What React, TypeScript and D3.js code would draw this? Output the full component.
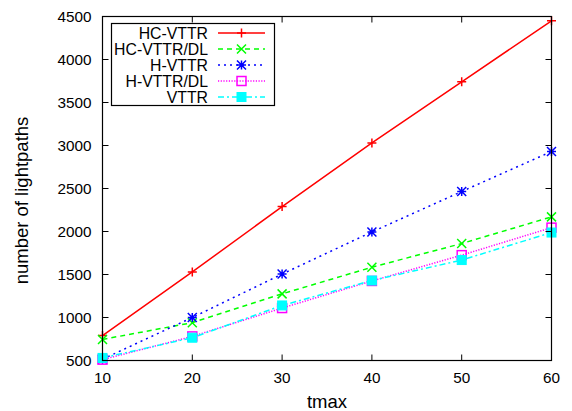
import React from "react";
import * as d3 from "d3";

const tmax = [10, 20, 30, 40, 50, 60];
const hcVttr = [790, 1530, 2290, 3030, 3740, 4450];
const hcVttrDl = [745, 940, 1275, 1585, 1860, 2170];
const hVttr = [515, 1000, 1505, 1995, 2465, 2930];
const hVttrDl = [510, 780, 1110, 1425, 1725, 2045];
const vttr = [530, 765, 1140, 1430, 1668, 1988];
const seriesNames = ["HC-VTTR", "HC-VTTR/DL", "H-VTTR", "H-VTTR/DL", "VTTR"];
const xTicks = [10, 20, 30, 40, 50, 60];
const yTicks = [500, 1000, 1500, 2000, 2500, 3000, 3500, 4000, 4500];

const W = 572, H = 411;
const L = 102.5, R = 551.5, T = 16.5, B = 360.5;
const font = "'Liberation Sans', Arial, Helvetica, sans-serif";

type S = { name: string; values: number[]; color: string; dash: string; marker: string };

const series: S[] = [
  { name: seriesNames[0], values: hcVttr, color: "#ff0000", dash: "", marker: "plus" },
  { name: seriesNames[1], values: hcVttrDl, color: "#00ff00", dash: "5,4", marker: "cross" },
  { name: seriesNames[2], values: hVttr, color: "#0000ff", dash: "2,4", marker: "star" },
  { name: seriesNames[3], values: hVttrDl, color: "#ff00ff", dash: "1.2,1.5", marker: "osq" },
  { name: seriesNames[4], values: vttr, color: "#00ffff", dash: "6,3,2,3", marker: "fsq" },
];

function Marker({ type, x, y, color }: { type: string; x: number; y: number; color: string }) {
  const r = 4.5;
  if (type === "plus")
    return <path d={`M${x - r},${y}H${x + r}M${x},${y - r}V${y + r}`} stroke={color} strokeWidth={1.5} />;
  if (type === "cross")
    return <path d={`M${x - r},${y - r}L${x + r},${y + r}M${x - r},${y + r}L${x + r},${y - r}`} stroke={color} strokeWidth={1.5} />;
  if (type === "star")
    return (
      <path
        d={`M${x - r},${y - r}L${x + r},${y + r}M${x - r},${y + r}L${x + r},${y - r}M${x - r},${y}H${x + r}M${x},${y - r}V${y + r}`}
        stroke={color}
        strokeWidth={1.5}
      />
    );
  if (type === "osq")
    return <rect x={x - r} y={y - r} width={2 * r} height={2 * r} fill="none" stroke={color} strokeWidth={1.5} />;
  return <rect x={x - r} y={y - r} width={2 * r} height={2 * r} fill={color} stroke={color} strokeWidth={1} />;
}

export default function App() {
  const x = d3.scaleLinear().domain([10, 60]).range([L, R]);
  const y = d3.scaleLinear().domain([500, 4500]).range([B, T]);
  const line = d3
    .line<number>()
    .x((_, i) => x(tmax[i]))
    .y((d) => y(d));

  const legX = 111.5, legY = 23.5, legW = 163, legH = 82;
  const rowH = 16;

  return (
    <svg width={W} height={H} style={{ position: "absolute", left: 0, top: 0 }} fontFamily={font}>
      <rect width={W} height={H} fill="#fff" />
      {series.map((s) => (
        <g key={s.name}>
          <path d={line(s.values) || ""} fill="none" stroke={s.color} strokeWidth={1.5} strokeDasharray={s.dash} />
          {s.values.map((v, i) => (
            <Marker key={i} type={s.marker} x={x(tmax[i])} y={y(v)} color={s.color} />
          ))}
        </g>
      ))}
      {/* frame */}
      <rect x={L} y={T} width={R - L} height={B - T} fill="none" stroke="#000" strokeWidth={1.2} />
      {xTicks.map((t) => (
        <g key={"x" + t}>
          <line x1={x(t)} x2={x(t)} y1={B} y2={B - 6} stroke="#000" />
          <line x1={x(t)} x2={x(t)} y1={T} y2={T + 6} stroke="#000" />
          <text x={x(t)} y={B + 22} textAnchor="middle" fontSize={15.3}>
            {t}
          </text>
        </g>
      ))}
      {yTicks.map((t) => (
        <g key={"y" + t}>
          <line x1={L} x2={L + 6} y1={y(t)} y2={y(t)} stroke="#000" />
          <line x1={R} x2={R - 6} y1={y(t)} y2={y(t)} stroke="#000" />
          <text x={L - 11} y={y(t) + 5.5} textAnchor="end" fontSize={15.3}>
            {t}
          </text>
        </g>
      ))}
      <text x={(L + R) / 2} y={H - 3} textAnchor="middle" fontSize={18.5}>
        tmax
      </text>
      <text
        transform={`translate(28,${(T + B) / 2 + 12}) rotate(-90)`}
        textAnchor="middle"
        fontSize={18.5}
      >
        number of lightpaths
      </text>
      {/* legend */}
      <rect x={legX} y={legY} width={legW} height={legH} fill="#fff" stroke="#000" strokeWidth={1.2} />
      {series.map((s, i) => {
        const cy = legY + 9.5 + i * rowH;
        return (
          <g key={"leg" + s.name}>
            <text x={208} y={cy + 5.5} textAnchor="end" fontSize={15.8}>
              {s.name}
            </text>
            <line x1={218} x2={265} y1={cy} y2={cy} stroke={s.color} strokeWidth={1.5} strokeDasharray={s.dash} />
            <Marker type={s.marker} x={241.5} y={cy} color={s.color} />
          </g>
        );
      })}
    </svg>
  );
}
